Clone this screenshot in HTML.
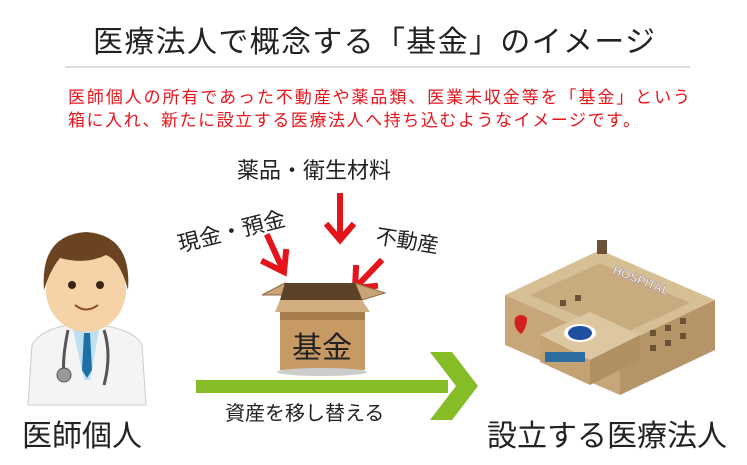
<!DOCTYPE html>
<html><head><meta charset="utf-8"><style>
body{margin:0;background:#fff;width:747px;height:460px;overflow:hidden}
text{font-family:"Liberation Sans","Noto Sans CJK JP",sans-serif}
</style></head><body>
<svg width="747" height="460" viewBox="0 0 747 460">
<text x="93" y="52" font-size="30" textLength="562" lengthAdjust="spacing" fill="#222">医療法人で概念する「基金」のイメージ</text>
<line x1="65" y1="67" x2="690" y2="67" stroke="#bbb" stroke-width="1"/>
<text x="68" y="103" font-size="17" textLength="622" lengthAdjust="spacing" fill="#e8141b">医師個人の所有であった不動産や薬品類、医業未収金等を「基金」という</text>
<text x="68" y="126" font-size="17" textLength="572" lengthAdjust="spacing" fill="#e8141b">箱に入れ、新たに設立する医療法人へ持ち込むようなイメージです。</text>
<text x="237" y="178" font-size="22" fill="#222">薬品・衛生材料</text>
<text transform="translate(180,252) rotate(-14)" font-size="22" fill="#222">現金・預金</text>
<text transform="translate(375,243) rotate(9)" font-size="21" fill="#222">不動産</text>
<g stroke="#e5141b" stroke-width="6" fill="none" stroke-linecap="square">
<path d="M340 196 L340 238"/><path d="M328 226 L340 240 L352 226"/>
<path d="M268 237 L283 270"/><path d="M264 262 L284 272 L286 252"/>
<path d="M380 262 L357 286"/><path d="M356 268 L355 288 L375 286"/>
</g>
<!-- box -->
<polygon points="262,295 285,283 308,295" fill="#c9a476" stroke="#8a6b45"/>
<polygon points="355,283 385,293 362,300" fill="#c9a476" stroke="#8a6b45"/>
<polygon points="285,283 355,283 362,300 280,300" fill="#5a4128"/>
<polygon points="280,300 362,300 370,312 275,312" fill="#d2ae80"/>
<rect x="280" y="312" width="85" height="58" fill="#c79a63"/>
<rect x="280" y="312" width="85" height="8" fill="#a67c4c"/>
<ellipse cx="322" cy="372" rx="45" ry="4" fill="#ccc"/>
<text x="322" y="358" font-size="30" text-anchor="middle" fill="#222">基金</text>
<!-- green arrow -->
<rect x="196" y="380" width="252" height="13" fill="#86bc25"/>
<polygon points="430,352 452,352 478,386 452,420 430,420 456,386" fill="#86bc25"/>
<text x="225" y="420" font-size="20" fill="#222">資産を移し替える</text>
<!-- doctor -->
<path d="M28 405 L32 345 Q40 330 68 325 L100 325 Q135 330 142 345 L146 405 Z" fill="#f4f4f4" stroke="#ccc"/>
<polygon points="72,325 100,325 90,380 84,380" fill="#bfe0f2"/>
<polygon points="84,333 90,333 92,370 87,378 82,370" fill="#1d6fa5"/>
<ellipse cx="86" cy="290" rx="40" ry="42" fill="#f6d2a8"/>
<rect x="76" y="318" width="20" height="12" fill="#f6d2a8"/>
<path d="M44 290 Q40 235 86 232 Q132 235 128 290 Q120 260 106 255 Q86 265 60 258 Q50 270 44 290Z" fill="#6b4320"/>
<circle cx="72" cy="285" r="4" fill="#3a2512"/><circle cx="100" cy="285" r="4" fill="#3a2512"/>
<path d="M75 305 Q86 314 98 305" stroke="#8a4a2a" stroke-width="2" fill="none"/>
<path d="M68 330 Q62 360 64 375 M104 330 Q112 355 104 385" stroke="#555" stroke-width="3" fill="none"/>
<circle cx="64" cy="375" r="7" fill="#999" stroke="#555"/>
<text x="22" y="446" font-size="30" fill="#222">医師個人</text>
<!-- hospital -->
<polygon points="505,295 600,250 715,300 620,345" fill="#d7bf95"/>
<polygon points="505,295 620,345 620,395 505,345" fill="#c7a77a"/>
<polygon points="620,345 715,300 715,350 620,395" fill="#b59468"/>
<polygon points="530,295 600,263 690,303 620,335" fill="#c8ac80"/>
<rect x="597" y="240" width="10" height="14" fill="#6b5236"/>
<polygon points="540,335 590,312 640,335 590,360" fill="#dcc7a0"/>
<polygon points="540,335 590,360 590,385 540,362" fill="#c4a272"/>
<polygon points="590,360 640,335 640,360 590,385" fill="#b08f62"/>
<ellipse cx="580" cy="333" rx="16" ry="9" fill="#fff"/><ellipse cx="580" cy="333" rx="12" ry="7" fill="#1e4fa0"/>
<g fill="#2d6ea2"><rect x="545" y="352" width="40" height="10"/></g>
<path d="M515 318 q6 -6 12 0 q0 10 -6 16 q-8 -6 -6 -16z" fill="#d41f1f"/>
<text transform="translate(612,273) rotate(22)" font-size="12" font-weight="bold" fill="#eee" stroke="#a88" stroke-width="0.5">HOSPITAL</text>
<g fill="#6a5236">
<rect x="650" y="330" width="6" height="6"/><rect x="665" y="325" width="6" height="6"/><rect x="680" y="318" width="6" height="6"/>
<rect x="650" y="345" width="6" height="6"/><rect x="665" y="340" width="6" height="6"/><rect x="680" y="333" width="6" height="6"/>
<rect x="560" y="300" width="6" height="6"/><rect x="575" y="295" width="6" height="6"/>
</g>
<text x="487" y="446" font-size="30" fill="#222">設立する医療法人</text>
</svg>
</body></html>
